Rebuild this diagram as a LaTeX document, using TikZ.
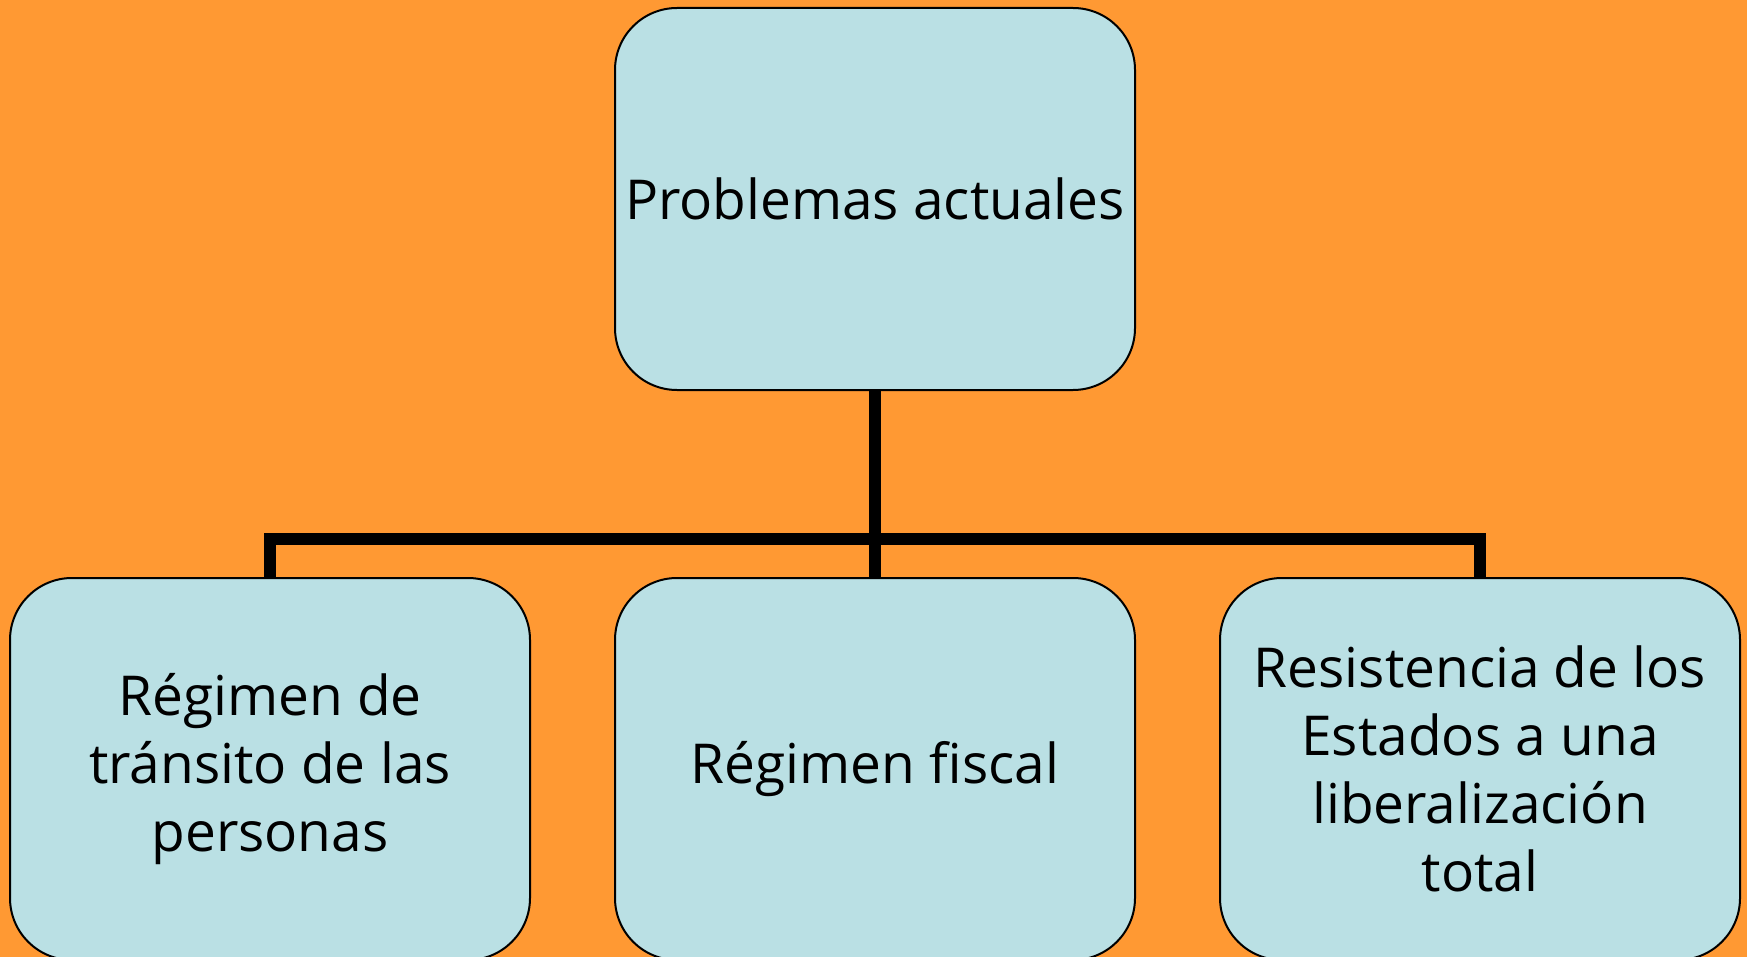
\documentclass[tikz,border=0pt]{standalone}
\usepackage{fontspec}
\setmainfont{Open Sans}
\definecolor{bgorange}{RGB}{255,153,51}
\definecolor{boxblue}{RGB}{186,224,228}
\begin{document}
\begin{tikzpicture}[x=1pt,y=-1pt,
  box/.style={draw=black, line width=2pt, fill=boxblue, rounded corners=62pt,
    minimum width=520pt, minimum height=382pt, inner sep=0pt, align=center,
    font=\fontsize{55}{68}\selectfont},
  conn/.style={line width=12pt, line join=miter}]
\fill[bgorange] (0,0) rectangle (1747,957);
\useasboundingbox (0,0) rectangle (1747,957);
\node[box] (top) at (875,199) {Problemas actuales};
\node[box] (l) at (270,769) {Régimen de\\tránsito de las\\personas};
\node[box] (m) at (875,769) {Régimen fiscal};
\node[box] (r) at (1480,769) {Resistencia de los\\Estados a una\\liberalización\\total};
\coordinate (j) at (875,539);
\draw[conn] (top.south) -- (m.north);
\draw[conn] (l.north) -- (l.north |- j) -- (r.north |- j) -- (r.north);
\end{tikzpicture}
\end{document}
